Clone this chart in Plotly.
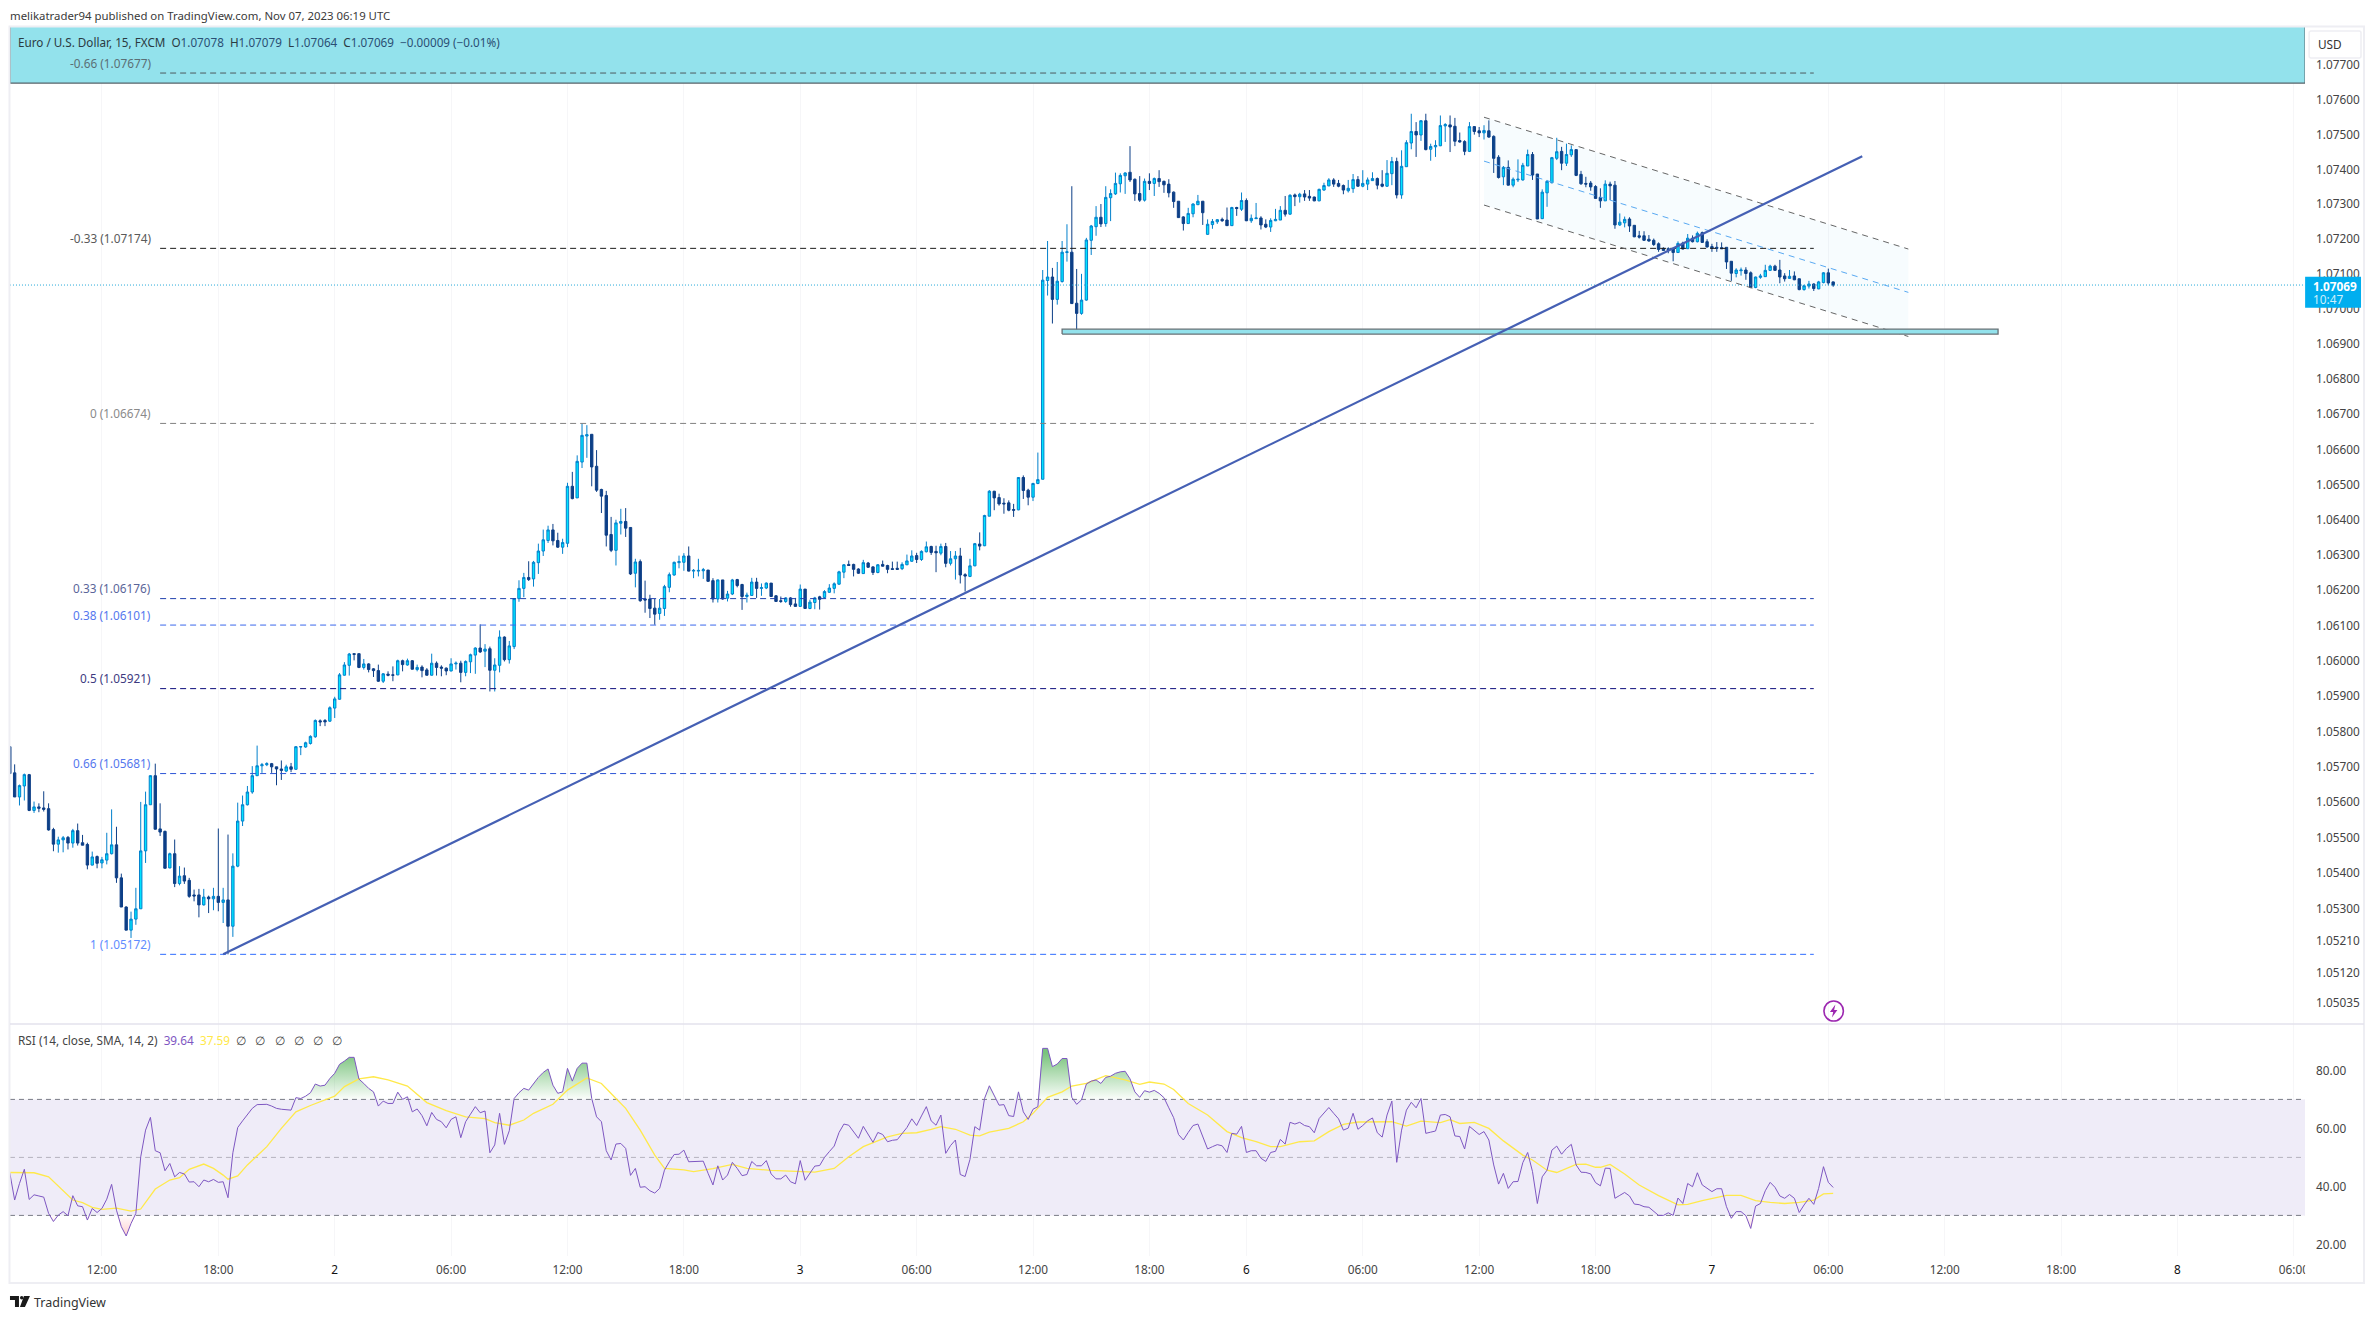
import math
import numpy as np
import plotly.graph_objects as go

W, H = 2379, 1319
# Candles: one bar per 15 minutes. Values are points above 1.05000 (1 point = 0.00001).
first_bar = -19
open_pts = [
757,683,615,646,678,577,587,584,582,523,482,494,501,485,520,486,481,423,447,429,
437,455,480,387,305,240,271,300,463,593,
675,525,518,415,455,371,393,380,339,339,
311,333,328,335,318,325,251,420,547,593,
629,675,703,706,709,700,694,688,700,693,
756,756,766,785,830,831,829,866,891,959,
987,1020,1020,981,991,977,972,942,962,960,
960,1000,988,1000,975,982,974,959,993,982,
979,971,991,993,967,997,1016,1036,1027,1034,
973,987,1067,1003,1040,1176,1205,1236,1232,1278,
1311,1341,1371,1341,1322,
1333,1495,1462,1564,1638,1643,1552,1486,1469,1358,
1313,1390,1395,1378,1248,1281,1175,1175,1149,1134,
1148,1208,1243,1278,1279,1297,1254,1254,1255,1257,
1227,1175,1229,1177,1189,1230,1216,1182,1185,1223,
1205,1206,1220,1184,1170,1168,1178,1161,1154,1203,
1148,1165,1181,1179,1194,1205,1217,1251,1273,1273,
1260,1247,1277,1266,1250,1273,1270,1261,1262,1261,
1272,1282,1298,1287,1309,1324,1310,1305,1324,1276,
1289,1297,1244,1239,1269,1331,1326,1410,1481,1463,
1447,1448,1429,1428,1520,1484,1464,1503,
1515,2082,2092,2028,2079,2162,2163,2017,1988,2026,
2197,2236,2263,2245,2319,2330,2359,2382,2392,2372,
2331,2312,2366,2360,2374,2366,2358,2335,2309,2264,
2245,2273,2299,2309,2214,2242,2250,2257,2255,2239,
2291,2286,2311,2253,2259,2261,2243,2235,2253,2255,
2283,2272,2327,2322,2330,2323,2321,2310,2341,2353,
2370,2360,2354,2339,2345,2371,2352,2358,2368,2374,
2358,2352,2388,2423,2327,2408,2476,2509,2499,2540,
2458,2465,2468,2525,2528,2524,2483,2480,2452,2523,
2511,2505,2511,2495,2435,2379,2406,2355,2370,2370,
2410,2443,2387,2259,2333,2362,2432,2452,2418,2442,
2457,2386,2360,2361,2351,2320,2310,2358,2355,2241,
2247,2258,2240,2210,2210,2200,2197,2187,2174,2173,
2172,2162,2189,2173,2203,2193,2219,2193,2179,2177,
2176,2177,2137,2102,2110,2112,2104,2062,2091,2093,
2111,2123,2112,2095,2088,2095,2087,2056,2066,2072,
2058,2076,2104,2078]
high_pts = [
757,707,650,681,680,602,597,631,597,528,503,505,505,525,540,508,486,461,450,446,
514,580,531,399,307,292,359,601,630,676,
709,597,520,458,495,420,416,387,354,356,
356,337,359,526,359,509,456,599,619,646,
702,760,711,713,711,700,718,706,711,758,
758,771,789,834,834,835,871,898,965,996,
1022,1020,1020,1005,993,979,989,965,970,984,
1003,1003,1006,1002,989,987,979,1020,998,987,
981,1007,998,1000,1001,1020,1038,1103,1047,1040,
1007,1086,1069,1056,1176,1228,1249,1282,1283,1332,
1372,1383,1388,1363,1346,
1505,1536,1583,1674,1669,1643,1598,1488,1482,1408,
1400,1431,1433,1378,1289,1287,1227,1187,1175,1175,
1215,1250,1281,1298,1305,1324,1260,1289,1263,1257,
1234,1230,1229,1198,1232,1232,1218,1193,1235,1235,
1219,1222,1220,1186,1182,1180,1180,1178,1216,1203,
1173,1181,1184,1200,1217,1222,1255,1274,1284,1275,
1262,1286,1280,1268,1274,1284,1272,1281,1281,1279,
1301,1313,1306,1313,1338,1326,1326,1332,1334,1311,
1311,1320,1248,1289,1334,1364,1414,1484,1482,1474,
1461,1455,1445,1521,1526,1488,1505,1591,
2112,2195,2118,2135,2195,2243,2352,2115,2101,2204,
2241,2295,2301,2352,2343,2391,2389,2392,2467,2374,
2381,2374,2389,2377,2398,2368,2372,2337,2309,2266,
2290,2303,2327,2309,2257,2258,2258,2262,2291,2293,
2293,2334,2317,2271,2304,2266,2257,2260,2287,2295,
2324,2329,2331,2333,2341,2341,2322,2345,2362,2375,
2375,2370,2357,2370,2387,2381,2398,2377,2392,2377,
2398,2427,2436,2434,2455,2484,2560,2536,2541,2560,
2474,2484,2555,2533,2555,2548,2506,2484,2536,2524,
2522,2527,2541,2498,2441,2410,2426,2377,2429,2419,
2457,2450,2387,2343,2370,2436,2491,2465,2474,2469,
2457,2396,2379,2367,2355,2346,2369,2365,2367,2274,
2265,2263,2240,2224,2223,2212,2202,2191,2177,2177,
2174,2194,2193,2215,2211,2222,2222,2200,2187,2192,
2191,2177,2137,2117,2119,2120,2108,2093,2101,2127,
2127,2127,2141,2103,2112,2108,2087,2070,2081,2074,
2081,2106,2116,2079]
low_pts = [
681,615,591,605,575,570,572,574,520,462,458,459,467,472,478,479,411,422,414,414,
425,453,373,305,240,218,255,300,429,593,
523,505,414,414,361,366,370,331,321,276,
309,288,296,293,260,172,221,417,533,591,
624,674,683,702,683,648,663,685,685,693,
733,754,763,782,815,815,827,838,890,958,
958,1001,979,975,967,954,940,937,956,942,
959,970,986,975,970,953,958,958,958,956,
959,970,975,939,956,965,963,1022,982,913,
913,967,998,992,1033,1167,1180,1226,1210,1246,
1297,1334,1327,1320,1303,
1322,1458,1462,1547,1576,1495,1479,1419,1324,1308,
1270,1358,1351,1243,1208,1167,1136,1121,1102,1116,
1127,1194,1241,1262,1255,1253,1234,1239,1232,1224,
1165,1165,1173,1168,1186,1208,1144,1165,1184,1178,
1184,1203,1181,1167,1164,1164,1153,1153,1153,1147,
1146,1146,1145,1177,1192,1191,1215,1234,1269,1239,
1246,1246,1263,1243,1248,1267,1248,1258,1258,1257,
1271,1280,1277,1283,1307,1300,1251,1299,1265,1270,
1230,1219,1196,1237,1268,1313,1325,1410,1427,1440,
1417,1424,1408,1427,1459,1441,1453,1501,
1515,2039,1959,2013,2076,2136,2015,1936,1984,2024,
2155,2210,2235,2236,2252,2327,2334,2330,2364,2310,
2307,2308,2341,2324,2350,2333,2320,2290,2261,2225,
2244,2263,2298,2241,2213,2230,2244,2250,2238,2238,
2267,2281,2252,2247,2258,2228,2232,2221,2252,2255,
2265,2270,2295,2305,2310,2310,2309,2309,2339,2352,
2350,2349,2329,2334,2333,2350,2349,2341,2367,2343,
2349,2350,2355,2317,2316,2408,2458,2436,2482,2455,
2425,2436,2467,2479,2450,2467,2477,2441,2450,2500,
2493,2486,2491,2390,2374,2355,2354,2349,2364,2368,
2410,2370,2258,2258,2293,2360,2427,2398,2410,2436,
2381,2356,2349,2339,2316,2290,2310,2312,2230,2238,
2234,2221,2206,2202,2195,2193,2181,2164,2168,2160,
2137,2161,2171,2172,2191,2191,2190,2176,2164,2164,
2172,2115,2081,2091,2096,2084,2060,2060,2087,2092,
2109,2110,2074,2079,2087,2083,2054,2053,2059,2052,
2057,2074,2068,2064]
close_pts = [
681,615,647,678,577,587,583,580,522,482,494,500,485,520,485,479,423,446,428,438,
455,480,387,305,240,271,300,463,593,675,
524,516,414,455,371,392,378,335,336,311,
333,328,335,318,325,251,420,547,593,629,
675,703,706,709,700,694,690,700,693,757,
757,768,786,831,827,827,867,892,960,988,
1019,1018,981,991,975,972,942,963,959,959,
1000,989,1000,976,981,972,959,993,981,979,
971,991,993,967,998,1017,1036,1025,1033,973,
988,1067,1003,1042,1176,1205,1236,1230,1279,1311,
1343,1371,1340,1322,1335,
1495,1460,1566,1640,1642,1550,1484,1467,1356,1313,
1391,1395,1376,1246,1280,1170,1172,1148,1132,1149,
1210,1244,1279,1281,1297,1254,1256,1256,1258,1225,
1175,1229,1175,1189,1229,1213,1182,1186,1223,1205,
1207,1220,1182,1168,1168,1178,1159,1154,1203,1148,
1166,1178,1174,1196,1206,1218,1252,1272,1270,1259,
1248,1278,1265,1250,1272,1268,1259,1259,1259,1273,
1283,1297,1287,1310,1323,1307,1306,1324,1276,1289,
1297,1243,1240,1269,1332,1325,1412,1481,1462,1445,
1445,1427,1427,1520,1483,1464,1503,1514,
2083,2092,2028,2080,2163,2164,2016,1988,2026,2198,
2238,2263,2244,2320,2331,2360,2383,2390,2370,2330,
2312,2366,2360,2374,2365,2356,2333,2308,2262,2245,
2274,2301,2309,2276,2243,2251,2256,2253,2239,2291,
2288,2311,2253,2260,2261,2241,2235,2254,2257,2283,
2272,2326,2322,2329,2321,2318,2310,2343,2354,2370,
2358,2352,2341,2346,2371,2352,2360,2370,2374,2355,
2352,2389,2423,2327,2409,2477,2509,2499,2540,2457,
2466,2469,2526,2529,2522,2481,2479,2452,2523,2509,
2505,2512,2493,2432,2377,2406,2355,2372,2372,2412,
2443,2384,2258,2335,2366,2434,2451,2418,2443,2457,
2383,2359,2358,2350,2317,2310,2358,2353,2241,2249,
2257,2238,2207,2206,2197,2195,2185,2171,2168,2170,
2162,2188,2172,2203,2193,2217,2191,2178,2174,2174,
2173,2135,2103,2112,2112,2102,2062,2092,2095,2111,
2123,2111,2092,2087,2094,2084,2056,2067,2072,2059,
2078,2104,2075,2069]
rsi_values = [
44.7,35.3,41.0,45.9,35.5,37.1,36.7,36.3,30.7,27.9,30.1,31.3,29.9,36.8,33.3,33.0,28.4,32.4,31.0,32.4,
35.6,40.7,31.8,26.1,22.9,27.2,30.7,50.2,59.4,63.8,
52.3,51.6,45.4,47.9,43.3,44.8,44.3,41.5,41.6,39.9,
42.2,41.6,42.4,41.4,41.6,36.1,51.6,60.3,62.6,64.6,
66.9,68.2,68.3,68.3,67.7,66.9,66.6,66.4,66.3,70.6,
70.3,71.1,72.3,75.3,74.6,74.9,77.2,79.0,82.1,83.2,
84.5,84.5,77.0,75.5,73.8,72.6,67.7,69.4,68.6,68.6,
72.5,70.0,70.9,65.7,66.7,64.4,60.9,65.5,63.1,62.3,
60.2,63.1,64.0,56.8,62.3,64.9,67.5,65.4,66.0,51.6,
54.3,65.2,54.5,59.2,70.3,72.3,73.8,73.2,75.5,77.6,
79.3,80.5,74.9,72.1,72.6,80.7,76.3,80.7,82.5,82.5,
70.3,64.0,62.3,52.3,49.1,54.6,54.8,53.1,43.8,46.2,
39.7,39.9,38.5,37.7,39.3,45.6,48.5,51.0,51.1,52.5,
48.5,48.6,48.6,48.7,44.5,40.5,47.1,42.2,43.9,48.3,
46.2,43.7,44.1,48.6,47.1,47.1,48.9,44.3,42.6,42.6,
43.9,41.6,40.9,48.9,42.1,44.7,47.0,47.2,50.0,52.0,
53.9,58.6,61.5,61.1,58.9,56.6,60.7,57.9,55.2,58.6,
57.9,55.4,55.9,56.1,58.3,60.3,63.3,61.0,64.3,67.5,
62.6,61.1,64.6,51.4,54.1,56.0,44.1,43.4,49.3,60.6,
59.4,70.3,74.7,71.5,68.0,68.2,64.4,64.1,72.6,65.7,
63.1,66.6,67.5,87.6,87.6,81.3,82.2,84.1,84.1,70.7,
68.3,69.8,75.3,76.3,76.7,75.5,77.6,78.0,79.0,79.5,
79.7,77.1,72.6,70.7,73.0,72.5,73.1,72.1,70.6,67.1,
63.7,57.9,56.0,58.6,61.0,61.5,56.9,52.9,53.7,54.4,
54.0,51.7,58.3,58.0,60.7,51.7,52.3,52.3,49.7,48.6,
51.7,52.1,56.2,54.6,62.1,61.5,62.1,61.0,60.6,58.5,
63.4,65.2,67.2,65.2,63.3,59.4,60.1,65.2,59.7,61.0,
62.6,63.6,58.5,57.0,64.6,69.4,48.3,59.4,66.3,69.0,
67.1,70.3,58.3,58.7,59.1,64.6,64.8,64.0,57.4,57.2,
52.9,60.7,59.2,57.9,58.9,56.0,47.4,40.8,44.5,39.3,
41.6,41.7,48.2,51.7,45.1,34.1,43.3,45.6,52.5,53.9,
51.1,53.1,54.5,47.4,44.9,44.8,44.3,41.3,40.2,46.3,
46.2,35.9,36.9,37.9,36.7,33.9,33.7,33.0,32.8,31.3,
30.0,30.0,30.9,30.0,36.0,34.1,41.0,39.9,44.7,40.5,
39.2,38.2,39.2,39.2,33.0,29.0,31.3,31.3,29.9,25.5,
33.2,34.1,38.5,41.4,39.7,36.7,35.9,37.2,35.9,31.0,
33.6,35.9,33.8,39.3,46.8,41.4,39.64]
rsi_ma_bars = [
-19,-16,-14,-11,-9,-6,-4,-2,0,3,6,8,11,14,16,18,21,23,25,26,28,30,34,37,40,43,48,50,53,56,59,63,67,71,75,79,81,84,87,89,93,96,
100,103,106,108,111,114,116,120,122,126,130,133,138,144,147,151,154,157,162,165,168,171,173,176,179,181,183,187,190,192,195,198,
200,203,207,211,214,216,219,221,224,228,232,235,238,241,243,247,250,253,256,259,263,266,269,272,276,278,280,283,286,289,293,295,298,
300,304,306,308,309,311,314,317,321,325,327,330,332,335,338,341,344,347,350,353,355,357]
rsi_ma_values = [
44.8,44.7,44.7,43.3,40.2,35.3,34.4,32.8,32.1,32.5,31.5,32.2,39.1,42.2,43.0,45.9,47.7,46.2,43.9,42.5,43.6,47.4,53.7,60.0,65.7,67.9,71.1,74.4,77.1,77.8,76.7,74.6,68.9,66.1,64.0,63.4,62.0,61.1,62.9,65.2,68.3,73.2,
77.4,75.5,70.3,66.9,59.4,50.8,46.2,45.7,45.1,46.1,47.6,46.2,45.5,45.1,44.9,46.2,50.2,53.7,57.1,58.3,58.5,59.7,60.6,59.7,57.7,57.4,58.7,60.0,62.3,65.2,70.7,72.6,
74.6,75.5,78.2,76.7,75.2,76.0,75.3,73.4,68.6,64.6,58.9,56.8,55.4,53.7,53.7,55.4,55.7,58.9,61.4,62.2,62.3,62.3,60.8,62.5,62.0,63.0,61.7,62.1,60.0,55.7,50.8,49.1,45.6,
44.8,47.6,47.7,46.6,46.6,47.6,44.3,40.5,36.8,33.6,33.8,35.1,35.9,36.9,36.9,35.1,34.5,34.1,34.5,35.3,37.4,37.59]
fib_ratios = ["-0.66", "-0.33", "0", "0.33", "0.38", "0.5", "0.66", "1"]
fib_prices = [1.07677, 1.07174, 1.06674, 1.06176, 1.06101, 1.05921, 1.05681, 1.05172]
fib_line_colors = ["#4e5a5e", "#1a1a1a", "#808080", "#1f3fae", "#3b68ec", "#0b0b7c", "#2c55d6", "#2e6bff"]
fib_text_colors = ["#5b6f75", "#5a5a5a", "#8a8a8a", "#5a6599", "#5577ee", "#3d3a80", "#5577ee", "#5f8cff"]
price_ticks = [1.077, 1.076, 1.075, 1.074, 1.073, 1.072, 1.071, 1.070, 1.069, 1.068, 1.067, 1.066, 1.065, 1.064,
               1.063, 1.062, 1.061, 1.060, 1.059, 1.058, 1.057, 1.056, 1.055, 1.054, 1.053, 1.0521, 1.0512, 1.05035]
time_tick_bars = [0, 24, 48, 72, 96, 120, 144, 168, 192, 216, 236, 260, 284, 308, 332, 356, 380, 404, 428, 452]
time_tick_text = ["12:00", "18:00", "2", "06:00", "12:00", "18:00", "3", "06:00", "12:00", "18:00", "6",
                  "06:00", "12:00", "18:00", "7", "06:00", "12:00", "18:00", "8", "06:00"]
last_price = 1.07069
rsi_ticks = [80, 60, 40, 20]
# Drawings, in bars and points above 1.05000
trend_bars, trend_pts = [25, 363], [172, 2438]
channel_bars = [285, 372.5]
channel_top, channel_mid, channel_bottom = [2550, 2172], [2424, 2048], [2298, 1922]
zone_bars, zone_pts = [198, 391], [1929, 1943]
banner_floor = 1.07648

assert len(open_pts) == len(high_pts) == len(low_pts) == len(close_pts) == 377, (len(open_pts), len(high_pts), len(low_pts), len(close_pts))
assert len(rsi_values) == 377, len(rsi_values)
assert len(rsi_ma_bars) == len(rsi_ma_values), (len(rsi_ma_bars), len(rsi_ma_values))


def price(p):
    return [1.05 + v / 1e5 for v in p]

bars = list(range(first_bar, first_bar + len(open_pts)))
X_RANGE = [-18.96, 454.32]
Y_RANGE = [0.021092, 0.032657]
RSI_RANGE = [16, 96]
px = lambda v: v / W
py = lambda v: 1 - v / H
FONT = "Noto Sans"

fig = go.Figure()

def main_line(x, y, color, width=1, dash=None, **kw):
    fig.add_trace(go.Scatter(x=x, y=y, mode="lines", xaxis="x", yaxis="y", hoverinfo="skip",
                             line=dict(color=color, width=width, dash=dash), **kw))

def rsi_line(x, y, color, width=1, dash=None, **kw):
    fig.add_trace(go.Scatter(x=x, y=y, mode="lines", xaxis="x2", yaxis="y2", hoverinfo="skip",
                             line=dict(color=color, width=width, dash=dash), **kw))

# banner rectangle at the top of the price pane
main_line([X_RANGE[0], X_RANGE[1], X_RANGE[1], X_RANGE[0], X_RANGE[0]],
          [banner_floor, banner_floor, 1.0782, 1.0782, banner_floor], "#55636a", 1.2,
          fill="toself", fillcolor="#93E2EC")
# channel fill: scatter traces paint above candlesticks, so the tint is translucent
main_line(channel_bars + channel_bars[::-1] + channel_bars[:1],
          price(channel_top + channel_bottom[::-1] + channel_top[:1]),
          "rgba(0,0,0,0)", 0, fill="toself", fillcolor="rgba(33,170,235,0.035)")
# price line
main_line(X_RANGE, [last_price, last_price], "#22A7D8", 1, "1px,2px")

fig.add_trace(go.Candlestick(
    x=bars, open=price(open_pts), high=price(high_pts), low=price(low_pts), close=price(close_pts),
    xaxis="x", yaxis="y", hoverinfo="skip", whiskerwidth=0,
    increasing=dict(line=dict(color="#0280CC", width=1), fillcolor="#00E5FF"),
    decreasing=dict(line=dict(color="#0D3F87", width=1), fillcolor="#0D3F87"),
))

# fibonacci levels
for val, col in zip(fib_prices, fib_line_colors):
    main_line([12, 353], [val, val], col, 1, "6px,4px")
# channel lines
main_line(channel_bars, price(channel_top), "#666666", 1, "6px,5px")
main_line(channel_bars, price(channel_bottom), "#666666", 1, "6px,5px")
main_line(channel_bars, price(channel_mid), "#59A9F2", 1, "6px,5px")
# horizontal zone
main_line([zone_bars[0], zone_bars[1], zone_bars[1], zone_bars[0], zone_bars[0]],
          price([zone_pts[0], zone_pts[0], zone_pts[1], zone_pts[1], zone_pts[0]]),
          "#667075", 1.3, fill="toself", fillcolor="#93E2EC")
# trend line
main_line(trend_bars, price(trend_pts), "#4560B4", 2.2)

# RSI pane
rsi_line([X_RANGE[0], X_RANGE[1], X_RANGE[1], X_RANGE[0], X_RANGE[0]], [70, 70, 30, 30, 70],
         "rgba(0,0,0,0)", 0, fill="toself", fillcolor="#EFECF8")
rsi_arr = np.array(rsi_values)
rsi_line(bars, [70] * len(bars), "rgba(0,0,0,0)", 0)
rsi_line(bars, np.maximum(rsi_arr, 70).tolist(), "rgba(0,0,0,0)", 0, fill="tonexty",
         fillgradient=dict(type="vertical", start=86, stop=70,
                           colorscale=[[0, "rgba(76,175,80,0.75)"], [1, "rgba(76,175,80,0.02)"]]))
rsi_line(bars, [30] * len(bars), "rgba(0,0,0,0)", 0)
rsi_line(bars, np.minimum(rsi_arr, 30).tolist(), "rgba(0,0,0,0)", 0, fill="tonexty",
         fillgradient=dict(type="vertical", start=22, stop=30,
                           colorscale=[[0, "rgba(255,82,82,0.30)"], [1, "rgba(255,82,82,0.02)"]]))
for lvl, col in [(70, "#787B86"), (50, "#B4B2BE"), (30, "#787B86")]:
    rsi_line(X_RANGE, [lvl, lvl], col, 1, "5px,4px")
rsi_line(rsi_ma_bars, rsi_ma_values, "#FFE94A", 1.3)
rsi_line(bars, rsi_values, "#7E57C2", 1)

# ---- text ----
ann = []
def text(x, y, s, size=11.8, color="#444", anchor="left"):
    ann.append(dict(xref="paper", yref="paper", x=px(x), y=py(y), text=s, showarrow=False, xanchor=anchor,
                    yanchor="middle", xshift=0, font=dict(family=FONT, size=size, color=color)))

text(8, 15, "melikatrader94 published on TradingView.com, Nov 07, 2023 06:19 UTC", 11.4, "#3a3a3a")
dv = "#2a4f74"
text(16, 42, f"Euro / U.S. Dollar, 15, FXCM  O<span style='color:{dv}'>1.07078</span>  "
             f"H<span style='color:{dv}'>1.07079</span>  L<span style='color:{dv}'>1.07064</span>  "
             f"C<span style='color:{dv}'>1.07069</span>  <span style='color:{dv}'>−0.00009 (−0.01%)</span>", 11.7, "#2b3a42")
nb = "\u00a0"
text(16, 1040, f"RSI (14, close, SMA, 14, 2){nb}{nb}<span style='color:#7E57C2'>39.64</span>{nb}{nb}"
               f"<span style='color:#FFE94A'>37.59</span>{nb}{nb}" + f"∅{nb}{nb}{nb}" * 5 + "∅", 11.8, "#444")
text(32, 1302, "TradingView", 12.5, "#333")
text(2320, 44, "USD", 11.8, "#333")
text(2315, 285.5, "<b>1.07069</b>", 11.8, "#ffffff")
text(2315, 299.5, "10:47", 11.8, "#CDEFFC")
for r, p, col in zip(fib_ratios, fib_prices, fib_text_colors):
    ann.append(dict(xref="x", yref="y", x=10.5, y=math.log10(p), text=f"{r} ({p:.5f})", showarrow=False,
                    xanchor="right", yanchor="middle", yshift=10.5, font=dict(family=FONT, size=11.8, color=col)))

FRAME = "#EEEEF3"
def rect(x0, y0, x1, y1, fill="rgba(0,0,0,0)", line=None, lw=0, layer="above", **kw):
    return dict(type="rect", xref="paper", yref="paper", x0=px(x0), x1=px(x1), y0=py(y0), y1=py(y1),
                fillcolor=fill, line=dict(color=line or "rgba(0,0,0,0)", width=lw), layer=layer, **kw)

def poly(points):
    return "M" + " L".join(f"{px(a)},{py(b)}" for a, b in points) + " Z"

shapes = [
    rect(9.5, 26.5, 2368, 1283, line=FRAME, lw=2),
    dict(type="line", xref="paper", yref="paper", x0=px(10), x1=px(2368), y0=py(1024), y1=py(1024),
         line=dict(color="#E3E2EC", width=1.5), layer="above"),
    rect(2309, 1258, 2318, 1281, fill="#ffffff"),
    # USD box and last price tag
    dict(type="path", xref="paper", yref="paper", layer="above", fillcolor="#ffffff", line=dict(color="#EEEEF3", width=1.5),
         path=f"M{px(2315)},{py(31)} L{px(2363)},{py(31)} Q{px(2365)},{py(31)} {px(2365)},{py(33)} L{px(2365)},{py(56)} "
              f"Q{px(2365)},{py(58)} {px(2363)},{py(58)} L{px(2315)},{py(58)} Q{px(2313)},{py(58)} {px(2313)},{py(56)} "
              f"L{px(2313)},{py(33)} Q{px(2313)},{py(31)} {px(2315)},{py(31)} Z"),
    rect(2309, 276.7, 2365, 307.7, fill="#00AEEF"),
    # lightning marker
    dict(type="circle", xref="paper", yref="paper", layer="above", x0=px(1827), x1=px(1846.5), y0=py(1001), y1=py(1021),
         line=dict(color="#9C27B0", width=1.6), fillcolor="rgba(0,0,0,0)"),
    dict(type="path", xref="paper", yref="paper", layer="above", fillcolor="#9C27B0", line=dict(width=0),
         path=poly([(1838.5, 1004.5), (1833, 1012), (1836.3, 1012), (1835, 1017.5), (1840.5, 1010), (1837.2, 1010)])),
    # TradingView mark
    dict(type="path", xref="paper", yref="paper", layer="above", fillcolor="#1a1a1a", line=dict(width=0),
         path=poly([(10, 1296), (19, 1296), (19, 1307), (15, 1307), (15, 1300), (10, 1300)]) + " "
              + poly([(24, 1296), (30, 1296), (25, 1307), (20, 1307)])),
    dict(type="circle", xref="paper", yref="paper", layer="above", x0=px(20), x1=px(23.5), y0=py(1296), y1=py(1299.5),
         fillcolor="#1a1a1a", line=dict(width=0)),
]

GRID = "#F6F6F8"
day = {"2", "3", "6", "7", "8"}
ticktext = [f"<span style='color:#111'>{t}</span>" if t in day else t for t in time_tick_text]
xcommon = dict(range=X_RANGE, tickmode="array", tickvals=time_tick_bars, showgrid=True, gridcolor=GRID, gridwidth=1,
               zeroline=False, showline=False, ticks="", domain=[px(10), px(2309)], fixedrange=True)
fig.update_layout(
    width=W, height=H, autosize=False, margin=dict(l=0, r=0, t=0, b=0, pad=0),
    paper_bgcolor="#ffffff", plot_bgcolor="#ffffff", showlegend=False, hovermode=False,
    font=dict(family=FONT, size=11.8, color="#444"),
    xaxis=dict(anchor="y", showticklabels=False, rangeslider=dict(visible=False), **xcommon),
    xaxis2=dict(anchor="y2", showticklabels=True, ticktext=ticktext, ticklabelstandoff=5,
                tickfont=dict(family=FONT, size=11.8, color="#444"), **xcommon),
    yaxis=dict(anchor="x", type="log", range=Y_RANGE, domain=[py(1024), py(27)], side="right", tickmode="array",
               tickvals=price_ticks, ticktext=[f"{t:.5f}" for t in price_ticks], showgrid=False, zeroline=False,
               ticks="", ticklabelstandoff=10, fixedrange=True, tickfont=dict(family=FONT, size=11.8, color="#444")),
    yaxis2=dict(anchor="x2", range=RSI_RANGE, domain=[py(1256), py(1024)], side="right", tickmode="array",
                tickvals=rsi_ticks, ticktext=[f"{t:.2f}" for t in rsi_ticks], showgrid=False, zeroline=False,
                ticks="", ticklabelstandoff=10, fixedrange=True, tickfont=dict(family=FONT, size=11.8, color="#444")),
    annotations=ann, shapes=shapes,
)
fig.write_html("out.html", config={"displayModeBar": False},
               post_script="document.body.style.margin='0';document.body.style.overflow='hidden';")
